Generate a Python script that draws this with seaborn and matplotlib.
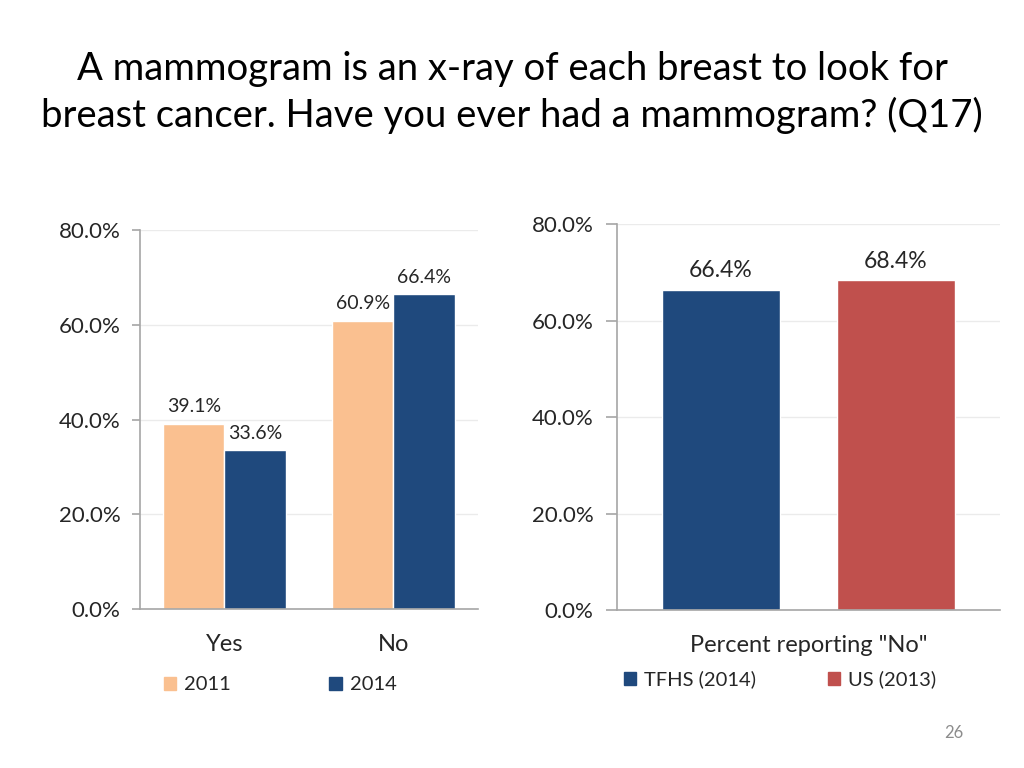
import matplotlib
matplotlib.use("Agg")
import matplotlib.pyplot as plt
import matplotlib.ticker as mticker
from matplotlib.patches import Patch
import seaborn as sns
import pandas as pd

# data
answers = ["Yes", "No"]
years = ["2011", "2014"]
pct_2011 = [39.1, 60.9]
pct_2014 = [33.6, 66.4]

compare_cat = ['Percent reporting "No"']
sources = ["TFHS (2014)", "US (2013)"]
pct_no = [66.4, 68.4]

year_colors = ["#FAC090", "#1F497D"]
source_colors = ["#1F497D", "#C0504D"]

title = ("A mammogram is an x-ray of each breast to look for\n"
         "breast cancer. Have you ever had a mammogram? (Q17)")

sns.set_style("white")
plt.rcParams["font.family"] = ["Lato", "DejaVu Sans"]

left_df = pd.DataFrame({
    "answer": answers * 2,
    "year": [years[0]] * 2 + [years[1]] * 2,
    "pct": pct_2011 + pct_2014,
})
right_df = pd.DataFrame({
    "cat": compare_cat * 2,
    "source": sources,
    "pct": pct_no,
})

fig = plt.figure(figsize=(10.24, 7.68), dpi=100)
fig.text(0.5, 0.8796, title, ha="center", va="center", fontsize=27.5,
         linespacing=1.33, color="black")

ax1 = fig.add_axes([0.1367, 0.207, 0.330, 0.4935])
ax2 = fig.add_axes([0.6025, 0.2057, 0.374, 0.5026])


def style_axis(ax, pad_y, pad_x, tick_len):
    ax.set_ylim(0, 80)
    ax.set_yticks([0, 20, 40, 60, 80])
    ax.yaxis.set_major_formatter(mticker.FuncFormatter(lambda v, p: f"{v:.1f}%"))
    ax.grid(axis="y", color="#EBEBEB", linewidth=1)
    ax.set_axisbelow(True)
    for s in ["top", "right"]:
        ax.spines[s].set_visible(False)
    for s in ["left", "bottom"]:
        ax.spines[s].set_color("#A6A6A6")
        ax.spines[s].set_linewidth(1.2)
    ax.tick_params(axis="y", length=tick_len, width=1.2, color="#A6A6A6",
                   labelsize=16, pad=pad_y, left=True)
    ax.tick_params(axis="x", length=0, labelsize=17, pad=pad_x)
    ax.set_xlabel("")
    ax.set_ylabel("")


# left chart: Yes / No by year
sns.barplot(data=left_df, x="answer", y="pct", hue="year", palette=year_colors,
            width=0.726, saturation=1, ax=ax1, legend=False)
ax1.set_xlim(-0.5, 1.5)
style_axis(ax1, 8, 18, 6)
for cont in ax1.containers:
    ax1.bar_label(cont, fmt="%.1f%%", padding=6, fontsize=14)
ax1.legend(handles=[Patch(color=c, label=y) for c, y in zip(year_colors, years)],
           loc="center left", bbox_to_anchor=(0.017, -0.2), ncol=2, frameon=False,
           fontsize=14.5, handlelength=0.6, handleheight=0.6, handletextpad=0.4,
           columnspacing=4.9)

# right chart: TFHS vs US
sns.barplot(data=right_df, x="cat", y="pct", hue="source", palette=source_colors,
            width=0.914, gap=0.33, saturation=1, ax=ax2, legend=False)
ax2.set_xlim(-0.5, 0.5)
style_axis(ax2, 9, 18, 8)
for cont in ax2.containers:
    ax2.bar_label(cont, fmt="%.1f%%", padding=6, fontsize=16.5)
ax2.legend(handles=[Patch(color=c, label=s) for c, s in zip(source_colors, sources)],
           loc="center left", bbox_to_anchor=(-0.03, -0.18), ncol=2, frameon=False,
           fontsize=14.5, handlelength=0.6, handleheight=0.6, handletextpad=0.4,
           columnspacing=3.6)

fig.text(0.931, 0.045, "26", ha="center", va="center", fontsize=12, color="#8C8C8C")

fig.savefig("out.png", dpi=100)
